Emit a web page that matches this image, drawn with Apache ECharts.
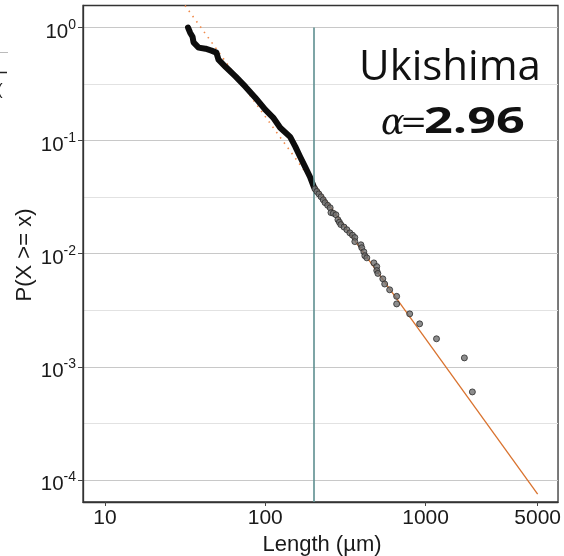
<!DOCTYPE html>
<html><head><meta charset="utf-8">
<script src="https://cdn.jsdelivr.net/npm/echarts@6/dist/echarts.min.js"></script>
<style>html,body{margin:0;padding:0;background:#fff}#c{width:564px;height:556px}</style>
</head><body><div id="c"></div>
<script>
// ---- data ----
const xTickValues = [10, 100, 1000, 5000];
const yMajorExponents = [0, -1, -2, -3, -4];
const yMinorExponents = [-0.5, -1.5, -2.5, -3.5];
const xRange = [7.3, 6700];
const yRange = [0.0000638, 1.567];

// dense part of the empirical CCDF (drawn as a thick black trace)
const headLength = [33, 34.0, 35.2, 35.7, 38.4, 42.4, 46.2, 49.6, 51.1, 56.5, 65.2, 75.2, 86.7, 100, 112, 124, 143, 154, 165, 177, 190, 201];
const headProb   = [1.0, 0.90, 0.83, 0.74, 0.665, 0.65, 0.625, 0.60, 0.52, 0.45, 0.37, 0.30, 0.24, 0.188, 0.16, 0.130, 0.108, 0.0885, 0.072, 0.0589, 0.048, 0.039];

// sparser tail points
const tailLength = [204, 210, 216, 223, 230, 236, 245, 254, 257, 266, 276, 284, 290, 296, 310, 323, 337, 350, 362, 362, 395, 400, 412, 418, 430, 476, 496, 496, 504, 541, 556, 597, 660, 660, 796, 918, 1170, 1746, 1958];
const tailProb   = [0.0375, 0.0355, 0.0338, 0.0319, 0.0300, 0.0283, 0.0268, 0.0255, 0.0231, 0.0228, 0.0221, 0.0200, 0.0190, 0.0181, 0.0172, 0.0163, 0.0153, 0.0146, 0.0139, 0.0128, 0.0120, 0.0113, 0.0104, 0.0096, 0.0092, 0.0083, 0.0077, 0.0071, 0.0067, 0.0060, 0.0054, 0.0048, 0.0042, 0.0036, 0.00294, 0.00240, 0.00177, 0.00120, 0.00060];

// fitted power law (alpha = 2.96), dotted below xmin, solid above
const fitDottedLength = [31.6, 201];
const fitDottedProb   = [1.567, 0.0415];
const fitSolidLength  = [201, 5000];
const fitSolidProb    = [0.0415, 0.000075];
const xminLength = 201;

const siteName = 'Ukishima';
const alphaText = '2.96';

// ---- chart ----
const L = Math.log10;
const pairs = (xs, ys) => xs.map((x, i) => [L(x), L(ys[i])]);
const yMin = L(yRange[0]), yMax = L(yRange[1]);
const axisFont = '"Liberation Sans", Arial, sans-serif';

const chart = echarts.init(document.getElementById('c'), null, {renderer: 'canvas'});
chart.setOption({
  animation: false,
  backgroundColor: '#ffffff',
  grid: {left: 83, right: 3.5, top: 5.5, bottom: 54, containLabel: false, show: true, borderColor: '#333333', borderWidth: 1.3, backgroundColor: 'transparent'},
  xAxis: {
    type: 'value', min: L(xRange[0]), max: L(xRange[1]),
    axisLine: {show: true, onZero: false, lineStyle: {color: '#333333', width: 1.3}},
    axisTick: {show: true, length: 4, customValues: xTickValues.map(L), lineStyle: {color: '#444444'}},
    axisLabel: {customValues: xTickValues.map(L), margin: 6, color: '#1a1a1a', fontSize: 21, fontFamily: axisFont,
      formatter: v => String(Math.round(Math.pow(10, v)))},
    splitLine: {show: false}
  },
  yAxis: [{
    type: 'value', min: yMin, max: yMax,
    axisLine: {show: true, onZero: false, lineStyle: {color: '#333333', width: 1.3}},
    axisTick: {show: true, length: 5, customValues: yMajorExponents, lineStyle: {color: '#444444'}},
    axisLabel: {customValues: yMajorExponents, margin: 7, color: '#1a1a1a', padding: [0, 0, 5, 0],
      formatter: v => '{b|10}{s|' + Math.round(v) + '}',
      rich: {
        b: {fontSize: 20.5, fontFamily: axisFont, color: '#1a1a1a', lineHeight: 20, verticalAlign: 'bottom'},
        s: {fontSize: 14, fontFamily: axisFont, color: '#1a1a1a', lineHeight: 35}
      }},
    splitLine: {show: true, lineStyle: {color: '#c8c8c8', width: 1}}
  }, {
    type: 'value', min: yMin, max: yMax, position: 'left',
    axisLine: {show: false}, axisLabel: {show: false},
    axisTick: {show: false, customValues: yMinorExponents},
    splitLine: {show: true, lineStyle: {color: '#e2e2e2', width: 1}}
  }],
  series: [
    {
      type: 'line', name: 'fit-dotted', data: pairs(fitDottedLength, fitDottedProb), symbol: 'none',
      lineStyle: {color: '#f08a4b', width: 1.6, type: [1.5, 5]}, z: 2, silent: true,
      markLine: {
        silent: true, symbol: 'none', label: {show: false},
        lineStyle: {color: '#5e8f90', width: 1.6, type: 'solid'},
        data: [[{coord: [L(xminLength), 0]}, {coord: [L(xminLength), yMin]}]]
      }
    },
    {
      type: 'line', name: 'fit-solid', data: pairs(fitSolidLength, fitSolidProb), symbol: 'none',
      lineStyle: {color: '#d9722e', width: 1.3}, z: 3, silent: true
    },
    {
      type: 'line', name: 'head', data: pairs(headLength, headProb), symbol: 'none', smooth: false,
      lineStyle: {color: '#0d0d0d', width: 6, cap: 'round', join: 'round'}, z: 4, silent: true
    },
    {
      type: 'scatter', name: 'tail', data: pairs(tailLength, tailProb), symbol: 'circle', symbolSize: 6,
      itemStyle: {color: '#707070', borderColor: '#2a2a2a', borderWidth: 1}, z: 5, silent: true
    }
  ],
  graphic: [
    {type: 'text', x: 322, y: 545, style: {text: 'Length (µm)', font: '22px "Liberation Sans"', fill: '#1a1a1a', textAlign: 'center', textVerticalAlign: 'middle'}},
    {type: 'text', x: 25, y: 255, rotation: Math.PI / 2, style: {text: 'P(X >= x)', font: '22px "Liberation Sans"', fill: '#1a1a1a', textAlign: 'center', textVerticalAlign: 'middle'}},
    {type: 'text', x: 450, y: 68, style: {text: siteName, font: '42px "Open Sans"', fill: '#111111', textAlign: 'center', textVerticalAlign: 'middle'}},
    {type: 'text', x: 381, y: 125, style: {text: 'α', font: 'italic 35px "DejaVu Serif"', fill: '#111111', textAlign: 'left', textVerticalAlign: 'middle'}},
    {type: 'text', x: 401, y: 125, scaleX: 1.3, originX: 0, style: {text: '=', font: '34px "Open Sans"', fill: '#111111', textAlign: 'left', textVerticalAlign: 'middle'}},
    {type: 'text', x: 424, y: 123, scaleX: 1.4, originX: 0, style: {text: alphaText, font: 'bold 36px "Open Sans"', fill: '#111111', textAlign: 'left', textVerticalAlign: 'middle'}},
    {type: 'line', shape: {x1: 0, y1: 52.5, x2: 8, y2: 52.5}, style: {stroke: '#bbbbbb', lineWidth: 1}},
    {type: 'line', shape: {x1: 0, y1: 72.5, x2: 7, y2: 72.5}, style: {stroke: '#222222', lineWidth: 1.5}},
    {type: 'text', x: -3, y: 90, style: {text: '(', font: '17px "Liberation Sans"', fill: '#222222', textVerticalAlign: 'middle'}}
  ]
});
</script></body></html>
